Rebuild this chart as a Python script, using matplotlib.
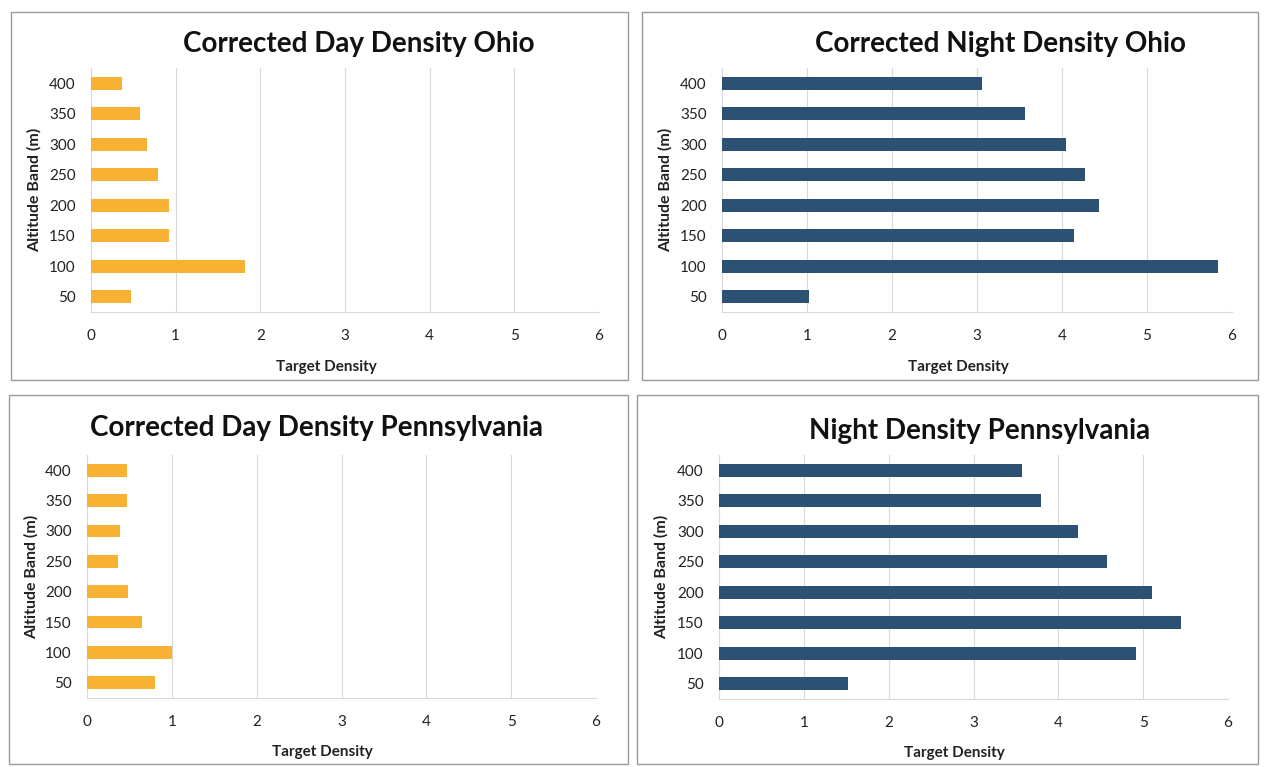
import matplotlib
matplotlib.use("Agg")
import matplotlib.pyplot as plt
from matplotlib.patches import Rectangle

W, H = 1264, 767

altitude_bands = ["50", "100", "150", "200", "250", "300", "350", "400"]
day_ohio = [0.47, 1.82, 0.92, 0.92, 0.79, 0.66, 0.58, 0.37]
night_ohio = [1.02, 5.83, 4.14, 4.44, 4.27, 4.05, 3.56, 3.06]
day_pa = [0.80, 1.00, 0.65, 0.48, 0.37, 0.39, 0.47, 0.47]
night_pa = [1.52, 4.91, 5.45, 5.10, 4.57, 4.23, 3.79, 3.57]
x_ticks = [0, 1, 2, 3, 4, 5, 6]

ORANGE = "#F7B233"
NAVY = "#2C5172"
FONT = "Lato"

fig = plt.figure(figsize=(W / 100, H / 100), dpi=100)
fig.patch.set_facecolor("white")


def fx(px):
    return px / W


def fy(py):
    return 1 - py / H


panels = [
    # (values, color, title, axes box (l, r, top, bottom) px, panel border, title center, ylabel x, xlabel y)
    (day_ohio, ORANGE, "Corrected Day Density Ohio", (91, 599, 68, 312), (11, 628, 12, 380), (359, 44), 34, 367),
    (night_ohio, NAVY, "Corrected Night Density Ohio", (722, 1232, 68, 312), (642, 1258, 12, 380), (1000, 44), 665, 367),
    (day_pa, ORANGE, "Corrected Day Density Pennsylvania", (87, 596, 455, 698), (9, 628, 395, 764), (317, 428), 31, 752),
    (night_pa, NAVY, "Night Density Pennsylvania", (719, 1228, 455, 699), (637, 1258, 395, 764), (980, 431), 661, 753),
]

for vals, color, title, (l, r, t, b), (bl, br, bt, bb), (tx, ty), ylx, xly in panels:
    # panel border
    fig.patches.append(Rectangle((fx(bl), fy(bb)), fx(br - bl), (bb - bt) / H,
                                 transform=fig.transFigure, fill=False,
                                 edgecolor="#9a9a9a", linewidth=1.0, zorder=0))
    ax = fig.add_axes([fx(l), fy(b), fx(r - l), (b - t) / H])
    ypos = list(range(len(altitude_bands)))
    ax.barh(ypos, vals, height=0.42, color=color, zorder=3)
    ax.set_yticks(ypos)
    ax.set_yticklabels(altitude_bands, fontfamily=FONT, fontsize=11, color="#222222")
    ax.set_ylim(-0.5, len(altitude_bands) - 0.5)
    ax.set_xlim(0, 6)
    ax.set_xticks(x_ticks)
    ax.set_xticklabels([str(v) for v in x_ticks], fontfamily=FONT, fontsize=11, color="#222222")
    ax.tick_params(axis="y", length=0, pad=11)
    ax.tick_params(axis="x", length=0, pad=12)
    ax.grid(axis="x", color="#d9d9d9", linewidth=0.8, zorder=0)
    for s in ["top", "right"]:
        ax.spines[s].set_visible(False)
    ax.spines["left"].set_color("#d9d9d9")
    ax.spines["bottom"].set_color("#d9d9d9")
    ax.set_xlabel("Target Density", fontfamily=FONT, fontsize=11, fontweight="bold",
                  color="#222222")
    ax.xaxis.set_label_coords(0.463, (b - xly) / (b - t), transform=ax.transAxes)
    ax.xaxis.label.set_va("center")
    fig.text(fx(ylx), fy((t + b) / 2), "Altitude Band (m)", rotation=90, ha="center",
             va="center", fontfamily=FONT, fontsize=11.5, fontweight="bold", color="#222222")
    fig.text(fx(tx), fy(ty), title, ha="center", va="center", fontfamily=FONT,
             fontsize=20, fontweight="bold", color="#111111")

fig.savefig("out.png", dpi=100, facecolor="white")
